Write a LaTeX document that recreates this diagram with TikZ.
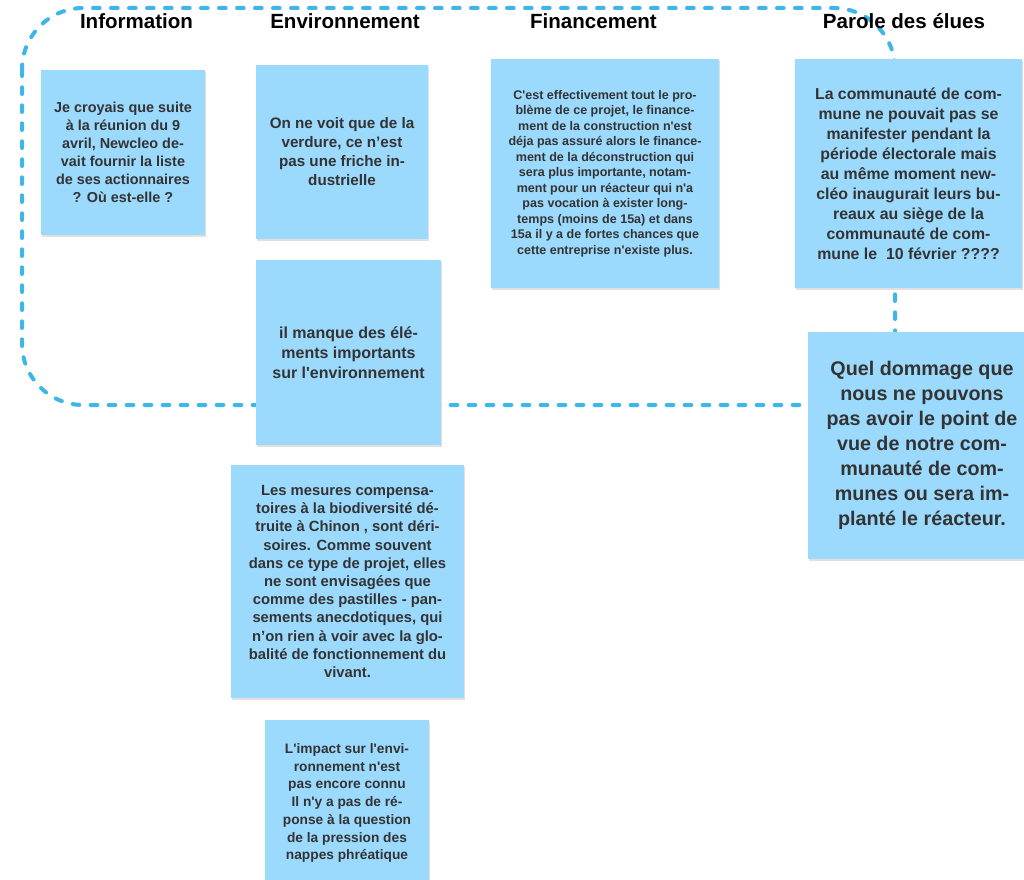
\documentclass[tikz,border=0pt]{standalone}
\usepackage{fontspec}
\newfontfamily\lsans{Liberation Sans}
\usetikzlibrary{shadows}
\definecolor{notefill}{HTML}{9BD9FD}
\definecolor{notetext}{HTML}{333333}
\definecolor{framecol}{HTML}{3DB6EA}
\tikzset{
  note/.style={fill=notefill, text=notetext, align=center, inner sep=0pt,
    drop shadow={shadow xshift=1pt, shadow yshift=-1.2pt, opacity=0.12, fill=black}},
  heading/.style={font=\lsans\bfseries\fontsize{15.4}{18}\selectfont, text=black, inner sep=0pt},
  frameline/.style={draw=framecol, line width=3pt, line cap=round, dash pattern=on 5pt off 8.5pt}
}
\begin{document}
\begin{tikzpicture}[x=0.75pt, y=-0.75pt]
\useasboundingbox (0,0) rectangle (1024,880);
\fill[white] (0,0) rectangle (1024,880);
% dashed frame (drawn behind the notes)
\coordinate (fA) at (22,8);
\coordinate (fB) at (895,405);
\draw[frameline, rounded corners=46pt] (fA) rectangle (fB);
% headings
\node[heading] (hInfo) at (136.5,21) {Information};
\node[heading] (hEnv) at (345,21) {Environnement};
\node[heading] (hFin) at (593.5,21) {Financement};
\node[heading] (hPar) at (904,21) {Parole des élues};
% notes
\node[note, minimum width=123pt, minimum height=123.75pt,
  font=\lsans\bfseries\fontsize{10.8}{13.5}\selectfont] (info) at (123,152.5)
  {Je croyais que suite\\à la réunion du 9\\avril, Newcleo de-\\vait fournir la liste\\de ses actionnaires\\? Où est-elle ?};
\node[note, minimum width=129pt, minimum height=130.5pt,
  font=\lsans\bfseries\fontsize{11.4}{14.25}\selectfont] (env1) at (342,152)
  {On ne voit que de la\\verdure, ce n’est\\pas une friche in-\\dustrielle};
\node[note, minimum width=138.75pt, minimum height=138.75pt,
  font=\lsans\bfseries\fontsize{12}{15}\selectfont] (env2) at (348.5,352.5)
  {il manque des élé-\\ments importants\\sur l'environnement};
\node[note, minimum width=174.75pt, minimum height=174.75pt,
  font=\lsans\bfseries\fontsize{11.1}{13.65}\selectfont] (env3) at (347.5,581.5)
  {Les mesures compensa-\\toires à la biodiversité dé-\\truite à Chinon , sont déri-\\soires. Comme souvent\\dans ce type de projet, elles\\ne sont envisagées que\\comme des pastilles - pan-\\sements anecdotiques, qui\\n’on rien à voir avec la glo-\\balité de fonctionnement du\\vivant.};
\node[note, minimum width=123pt, minimum height=124.5pt,
  font=\lsans\bfseries\fontsize{10.3}{13.3}\selectfont] (env4) at (347,803)
  {L'impact sur l'envi-\\ronnement n'est\\pas encore connu\\Il n'y a pas de ré-\\ponse à la question\\de la pression des\\nappes phréatique};
\node[note, minimum width=171pt, minimum height=171.75pt,
  font=\lsans\bfseries\fontsize{9.4}{11.6}\selectfont] (fin) at (605,173.5)
  {C'est effectivement tout le pro-\\blème de ce projet, le finance-\\ment de la construction n'est\\déja pas assuré alors le finance-\\ment de la déconstruction qui\\sera plus importante, notam-\\ment pour un réacteur qui n'a\\pas vocation à exister long-\\temps (moins de 15a) et dans\\15a il y a de fortes chances que\\cette entreprise n'existe plus.};
\node[note, minimum width=170.25pt, minimum height=171.75pt,
  font=\lsans\bfseries\fontsize{11.9}{15}\selectfont] (par) at (908.5,173.5)
  {La communauté de com-\\mune ne pouvait pas se\\manifester pendant la\\période électorale mais\\au même moment new-\\cléo inaugurait leurs bu-\\reaux au siège de la\\communauté de com-\\mune le\ \ 10 février ????};
\node[note, minimum width=171pt, minimum height=170.25pt,
  font=\lsans\bfseries\fontsize{14.8}{18.75}\selectfont] (quel) at (922,445.5)
  {Quel dommage que\\nous ne pouvons\\pas avoir le point de\\vue de notre com-\\munauté de com-\\munes ou sera im-\\planté le réacteur.};
\end{tikzpicture}
\end{document}
